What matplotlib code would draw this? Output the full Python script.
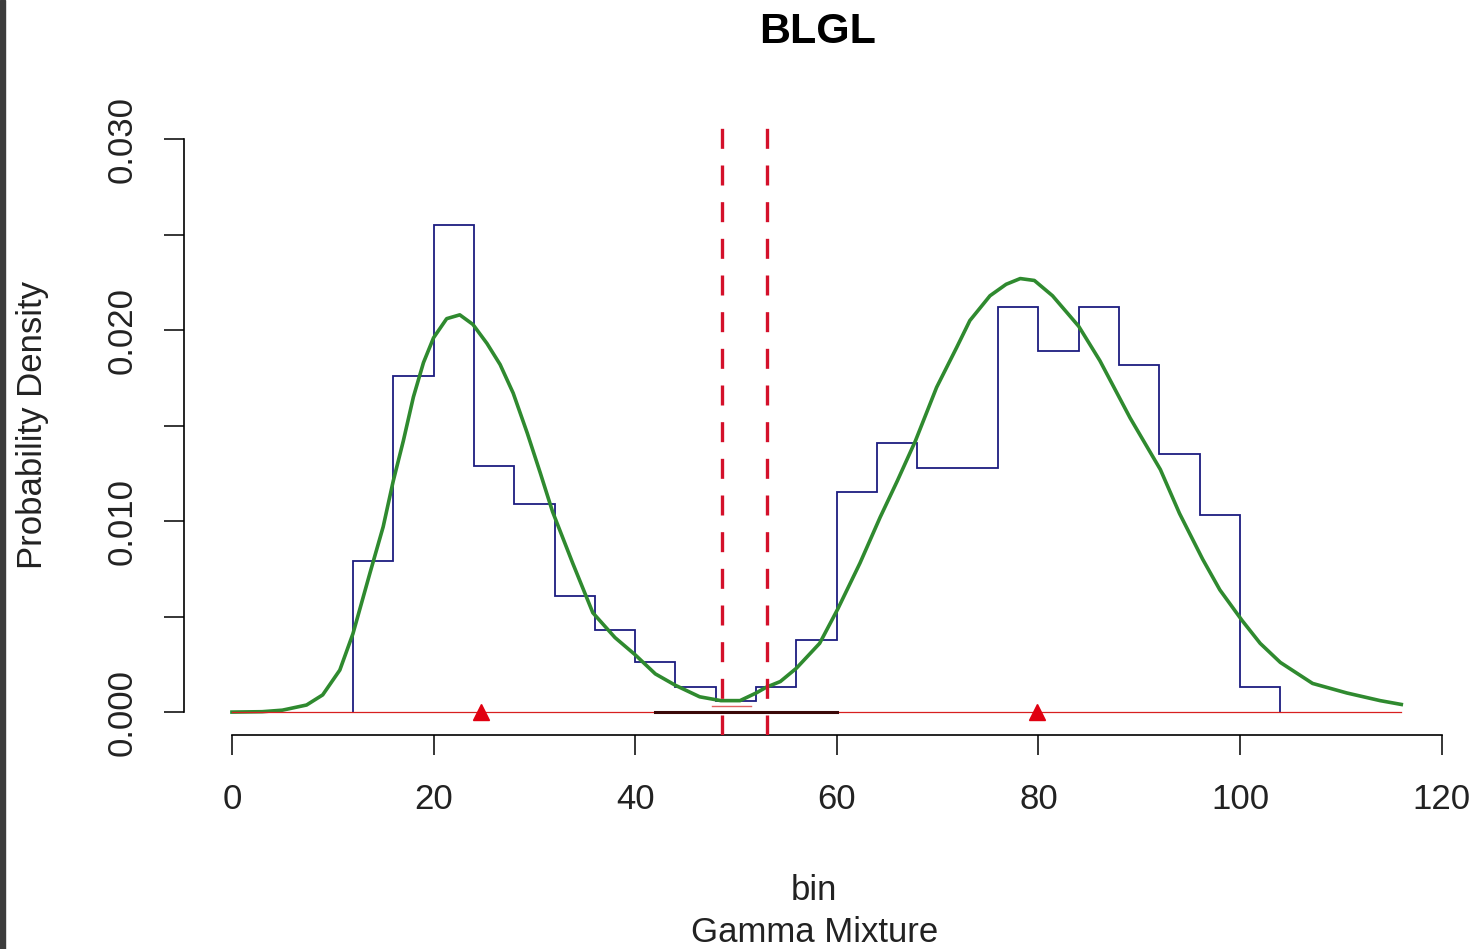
import matplotlib
matplotlib.use("Agg")
import matplotlib.pyplot as plt
from matplotlib.patches import Rectangle

plt.rcParams['font.family'] = ['Liberation Sans', 'DejaVu Sans']

# histogram (density per 4-unit bin)
bin_edges = [12, 16, 20, 24, 28, 32, 36, 40, 44, 48, 52, 56, 60, 64, 68,
             72, 76, 80, 84, 88, 92, 96, 100, 104]
hist_density = [0.0079, 0.0176, 0.0255, 0.0129, 0.0109, 0.0061, 0.0043,
                0.0026, 0.0013, 0.0006, 0.0013, 0.0038, 0.0115, 0.0141,
                0.0128, 0.0128, 0.0212, 0.0189, 0.0212, 0.0182, 0.0135,
                0.0103, 0.0013]

# fitted gamma mixture curve
curve_x = [0, 3, 5, 7.4, 9, 10.7, 12, 13.7, 15, 16, 17, 18, 19, 20, 21.3,
           22.6, 23.9, 25.3, 26.6, 27.9, 29.3, 30.6, 31.8, 33.8, 35.8, 38,
           40, 42, 44, 46.4, 48.5, 50.4, 52, 53, 54.4, 56, 58.3, 60.1, 62.3,
           64.3, 66, 67.8, 69.9, 71.9, 73.2, 75.2, 76.8, 78.2, 79.6, 81.4,
           84, 86.1, 89.1, 92.1, 94, 96.3, 98, 100.2, 102, 104, 107.2,
           110.6, 113.9, 116]
curve_y = [0, 0.00002, 0.0001, 0.00037, 0.0009, 0.0022, 0.0041, 0.0073,
           0.0097, 0.0121, 0.0142, 0.0165, 0.0183, 0.0196, 0.0206, 0.0208,
           0.0203, 0.0193, 0.0182, 0.0167, 0.0146, 0.0125, 0.0105, 0.0078,
           0.0052, 0.0039, 0.003, 0.002, 0.0014, 0.0008, 0.0006, 0.0006,
           0.001, 0.0013, 0.0016, 0.0023, 0.0036, 0.0054, 0.0078, 0.0102,
           0.0121, 0.0142, 0.017, 0.0191, 0.0205, 0.0218, 0.0224, 0.0227,
           0.0226, 0.0218, 0.0202, 0.0184, 0.0154, 0.0127, 0.0104, 0.008,
           0.0064, 0.0048, 0.0036, 0.0026, 0.0015, 0.001, 0.0006, 0.0004]

baseline_range = [0, 116]
means = [24.7, 79.9]
cutoffs = [48.6, 53.1]
overlap_range = [42, 60]
small_seg = [47.6, 51.5]

x_ticks = [0, 20, 40, 60, 80, 100, 120]
y_ticks = [0, 0.005, 0.010, 0.015, 0.020, 0.025, 0.030]
y_ticklabels = ['0.000', '', '0.010', '', '0.020', '', '0.030']

fig = plt.figure(figsize=(14.78, 9.49), dpi=100)
ax = fig.add_axes([0.1242, 0.2255, 0.858, 0.648])

ax.stairs(hist_density, bin_edges, baseline=0, color='#1c1c80', lw=1.3)
ax.plot(curve_x, curve_y, color='#2f8a2f', lw=2.6, zorder=3,
        solid_joinstyle='round')
ax.plot(baseline_range, [0, 0], color='#d82020', lw=0.9, zorder=4)
ax.plot(overlap_range, [0, 0], color='#3a0808', lw=2.2, zorder=4)
ax.plot(small_seg, [0.0003, 0.0003], color='#e06060', lw=1.0, zorder=4)
ax.plot(means, [0, 0], linestyle='none', marker='^', ms=12,
        color='#e00010', zorder=5)
for c in cutoffs:
    ax.axvline(c, color='#d4102a', lw=2.4, dashes=(6, 5), zorder=6)

ax.set_xlim(-4.8, 121)
ax.set_ylim(-0.0012, 0.031)

for s in ['top', 'right']:
    ax.spines[s].set_visible(False)
ax.spines['left'].set_bounds(0, 0.03)
ax.spines['bottom'].set_bounds(0, 120)
ax.spines['left'].set_linewidth(1.2)
ax.spines['bottom'].set_linewidth(1.2)

ax.set_xticks(x_ticks)
ax.set_xticklabels([str(t) for t in x_ticks])
ax.set_yticks(y_ticks)
ax.set_yticklabels(y_ticklabels, rotation=90, va='center')
ax.tick_params(direction='out', length=14.4, width=1.1, labelsize=25,
               colors='black')
ax.tick_params(axis='x', pad=20)
ax.tick_params(axis='y', pad=18)
for lbl in ax.get_xticklabels() + ax.get_yticklabels():
    lbl.set_color('#222222')

fig.text(0.553, 0.966, 'BLGL', ha='center', va='center', fontsize=31,
         fontweight='bold')
fig.text(0.551, 0.062, 'bin', ha='center', va='center', fontsize=25,
         color='#222222')
fig.text(0.551, 0.017, 'Gamma Mixture', ha='center', va='center',
         fontsize=25, color='#222222')
fig.text(0.022, 0.552, 'Probability Density', ha='center', va='center',
         rotation=90, fontsize=25, color='#222222')

fig.patches.append(Rectangle((0, 0), 5 / 1478, 1, transform=fig.transFigure,
                             color='#3c3c3c', zorder=10))

fig.savefig('out.png', dpi=100)
